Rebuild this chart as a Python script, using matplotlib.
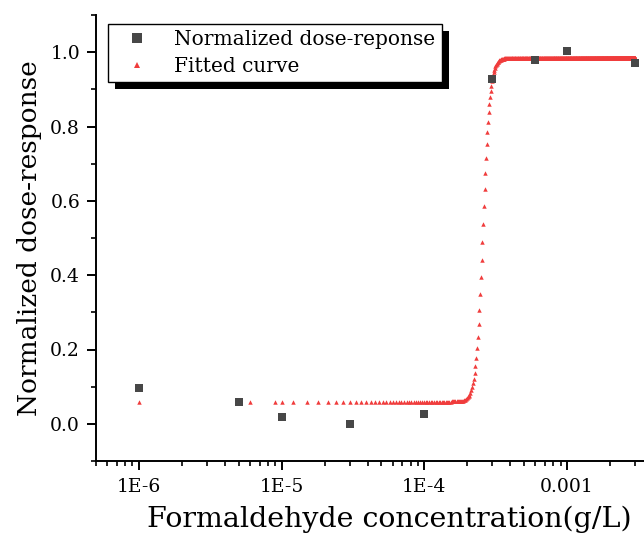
import numpy as np
import matplotlib
matplotlib.use("Agg")
import matplotlib.pyplot as plt
from matplotlib.patches import Rectangle
from matplotlib.transforms import IdentityTransform
from matplotlib.ticker import FixedLocator, LogLocator, NullFormatter, MultipleLocator

# Measured data
conc = [1e-6, 5e-6, 1e-5, 3e-5, 1e-4, 3e-4, 6e-4, 1e-3, 3e-3]
response = [0.097, 0.060, 0.018, 0.000, 0.027, 0.927, 0.980, 1.002, 0.971]

# Fitted logistic curve parameters
fit_bottom = 0.060
fit_top = 0.985
fit_x0 = 2.57e-4
fit_p = 18.0
fit_step = 3e-6
fit_start = 6e-6
fit_end = 3.0e-3

xtick_vals = [1e-6, 1e-5, 1e-4, 1e-3]
xtick_labels = ["1E-6", "1E-5", "1E-4", "0.001"]
ytick_vals = [0.0, 0.2, 0.4, 0.6, 0.8, 1.0]
ytick_labels = ["0.0", "0.2", "0.4", "0.6", "0.8", "1.0"]

fit_x = np.sort(np.unique(np.concatenate([[1e-6, 5e-6, 1e-5],
                                          np.arange(fit_start, fit_end + 1e-9, fit_step)])))
fit_y = fit_bottom + (fit_top - fit_bottom) / (1 + (fit_x0 / fit_x) ** fit_p)

FONT = ["DejaVu Serif"]
plt.rcParams['font.family'] = FONT

fig = plt.figure(figsize=(6.44, 5.38), dpi=100)
ax = fig.add_axes([96 / 644, (538 - 461) / 538, (644 - 96) / 644, (461 - 15) / 538])

ax.plot(fit_x, fit_y, linestyle='none', marker='^', markersize=3.2,
        color='#f03c3c', markeredgewidth=0, label='Fitted curve', zorder=3)
ax.plot(conc, response, linestyle='none', marker='s', markersize=6.0,
        color='#474747', markeredgewidth=0, label='Normalized dose-reponse', zorder=4)

ax.set_xscale('log')
ax.set_xlim(5e-7, 3.46e-3)
ax.set_ylim(-0.1, 1.1)

ax.xaxis.set_major_locator(FixedLocator(xtick_vals))
ax.set_xticklabels(xtick_labels)
ax.xaxis.set_minor_locator(LogLocator(base=10, subs=np.arange(2, 10), numticks=20))
ax.xaxis.set_minor_formatter(NullFormatter())
ax.set_yticks(ytick_vals)
ax.set_yticklabels(ytick_labels)
ax.yaxis.set_minor_locator(MultipleLocator(0.1))

for s in ['top', 'right']:
    ax.spines[s].set_visible(False)
for s in ['left', 'bottom']:
    ax.spines[s].set_linewidth(1.4)

ax.tick_params(axis='both', which='major', direction='out', length=6.5, width=1.4,
               labelsize=13.5, pad=5)
ax.tick_params(axis='both', which='minor', direction='out', length=3.6, width=1.2)
ax.tick_params(axis='x', which='major', pad=6)

ax.set_xlabel('Formaldehyde concentration(g/L)', fontsize=20.5)
ax.xaxis.set_label_coords(0.535, -0.1)
ax.set_ylabel('Normalized dose-response', fontsize=19, labelpad=6)

handles, labels = ax.get_legend_handles_labels()
leg = ax.legend(handles[::-1], labels[::-1], loc='upper left',
                bbox_to_anchor=(110 / 644 - 96 / 644 + 0.0, (461 - 24) / 446),
                bbox_transform=ax.transAxes,
                fontsize=14.5, frameon=True, fancybox=False, edgecolor='black',
                framealpha=1, borderpad=0.3, labelspacing=0.4, handletextpad=0.7,
                borderaxespad=0, markerscale=1.25, handlelength=2.3)
leg.get_frame().set_linewidth(1.0)
leg.set_zorder(5)

fig.canvas.draw()
bb = leg.get_window_extent()
shadow = Rectangle((bb.x0 + 7, bb.y0 - 7), bb.width, bb.height, transform=IdentityTransform(),
                   facecolor='black', edgecolor='none', clip_on=False, zorder=4.9)
ax.add_patch(shadow)

fig.savefig('out.png', dpi=100)
